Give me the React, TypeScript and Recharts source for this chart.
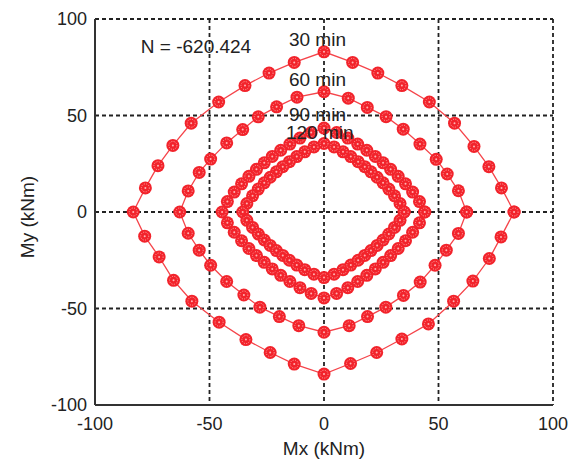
import {
  ScatterChart,
  Scatter,
  XAxis,
  YAxis,
  CartesianGrid,
  ReferenceDot,
} from 'recharts';

// Interaction curves My vs Mx (kNm), traced counter-clockwise from +Mx
const curve30: [number, number][] = [
  [83, 0], [77.5, 12.5], [72, 23.5], [65.5, 34], [57, 46], [46, 57], [34, 65.5], [23.5, 72], [12.5, 77.5], [0, 83],
  [-13, 77.5], [-24, 72], [-34.5, 65.5], [-46, 57], [-58, 46], [-66, 34.5], [-72.5, 24], [-78, 12.5], [-83.3, 0],
  [-78.3, -12.5], [-72, -23.3], [-65.7, -35.4], [-57.7, -46.2], [-45.8, -57.1], [-34.1, -66.1], [-23.5, -72.8], [-13, -78.8], [0, -84],
  [11.6, -78.5], [23, -72.8], [34, -65.8], [45.6, -58], [56.6, -46.2], [65, -35.8], [72.2, -24.1], [77.3, -12.9], [83, 0],
];

const curve60: [number, number][] = [
  [62.3, 0], [58.7, 11], [53.8, 19.7], [49, 27.3], [41.9, 35.2], [34.6, 42.9], [27.1, 49.4], [18.9, 54.2], [10.6, 59], [0, 62.3],
  [-11.8, 59.5], [-20.7, 54.5], [-28.7, 49.3], [-35.5, 42.7], [-42.5, 35.8], [-49.5, 27.4], [-54.5, 20.5], [-59.3, 10.9], [-63, 0],
  [-59.3, -11], [-54.5, -19.8], [-49.5, -27.6], [-42.5, -36], [-35, -43], [-28, -49.3], [-19.5, -54.2], [-11, -58.9], [0, -62.3],
  [11, -58.9], [19, -54.2], [27, -49.3], [34.7, -43.2], [42, -36.3], [48.5, -27.6], [53.4, -19.8], [58.7, -11.1], [62.3, 0],
];

const curve90: [number, number][] = [
  [44, 0], [41.7, 5.4], [38.7, 10.3], [35.6, 14.6], [32.4, 18.5], [29.1, 22.1], [25.8, 25.5], [22.4, 28.8], [18.7, 32], [14.7, 35.2], [10.4, 38.3], [5.5, 41.2], [0, 43.5],
  [-5.6, 41.2], [-10.5, 38.3], [-14.9, 35.2], [-18.9, 32], [-22.6, 28.8], [-26.1, 25.5], [-29.5, 22.1], [-32.8, 18.5], [-36, 14.6], [-39.2, 10.3], [-42.2, 5.4], [-44.5, 0],
  [-42.2, -5.6], [-39.2, -10.5], [-36, -14.9], [-32.8, -18.9], [-29.5, -22.6], [-26.1, -26.1], [-22.6, -29.5], [-18.9, -32.8], [-14.9, -36], [-10.5, -39.2], [-5.6, -42.2], [0, -44.5],
  [5.5, -42.2], [10.4, -39.2], [14.7, -36], [18.7, -32.8], [22.4, -29.5], [25.8, -26.1], [29.1, -22.6], [32.4, -18.9], [35.6, -14.9], [38.7, -10.5], [41.7, -5.6], [44, 0],
];

const curve120: [number, number][] = [
  [35, 0], [33.2, 4.4], [30.8, 8.4], [28.3, 11.9], [25.8, 15.1], [23.2, 18], [20.5, 20.8], [17.8, 23.5], [14.9, 26.1], [11.7, 28.7], [8.3, 31.2], [4.4, 33.7], [0, 35.5],
  [-4.4, 33.7], [-8.4, 31.2], [-11.9, 28.7], [-15.1, 26.1], [-18, 23.5], [-20.8, 20.8], [-23.5, 18], [-26.1, 15.1], [-28.7, 11.9], [-31.2, 8.4], [-33.7, 4.4], [-35.5, 0],
  [-33.7, -4.3], [-31.2, -8], [-28.7, -11.4], [-26.1, -14.5], [-23.5, -17.3], [-20.8, -20], [-18, -22.5], [-15.1, -25], [-11.9, -27.5], [-8.4, -29.9], [-4.4, -32.2], [0, -34],
  [4.4, -32.2], [8.3, -29.9], [11.7, -27.5], [14.9, -25], [17.8, -22.5], [20.5, -20], [23.2, -17.3], [25.8, -14.5], [28.3, -11.4], [30.8, -8], [33.2, -4.3], [35, 0],
];

const curves = [curve30, curve60, curve90, curve120];

const axisTicks = [-100, -50, 0, 50, 100];

// text annotations, anchored at their left edge (data coords)
const notes = [
  { text: 'N = -620.424', x: -80, y: 86 },
  { text: '30 min', x: -15.3, y: 89.6 },
  { text: '60 min', x: -15.3, y: 68.8 },
  { text: '90 min', x: -15.3, y: 50.5 },
  { text: '120 min', x: -16.6, y: 41.1 },
];

const FONT = '"Liberation Sans", Arial, sans-serif';
const RED = '#f2232b';

const Marker = (props: any) => {
  const { cx, cy } = props;
  if (cx == null || cy == null) return null;
  return (
    <g>
      <circle cx={cx} cy={cy} r={6.5} fill={RED} />
      <circle cx={cx} cy={cy} r={4} fill="none" stroke="#ffa8a8" strokeWidth={1} strokeDasharray="1 1.4" />
      <circle cx={cx} cy={cy} r={1} fill="#ffb4b4" />
    </g>
  );
};

const YTitle = (props: any) => {
  const vb = props.viewBox;
  const x = vb.x + 27;
  const y = vb.y + vb.height / 2 + 5;
  return (
    <text
      x={x}
      y={y}
      transform={`rotate(-90, ${x}, ${y})`}
      textAnchor="middle"
      dominantBaseline="central"
      fontSize={19}
      fill="#222"
      fontFamily={FONT}
    >
      My (kNm)
    </text>
  );
};

export default function App() {
  return (
    <div style={{ position: 'absolute', left: 0, top: 0, width: 581, height: 461, background: '#fff' }}>
      <ScatterChart width={581} height={461} margin={{ top: 19, right: 28, bottom: 0, left: 0 }}>
        <CartesianGrid stroke="#222" strokeWidth={1.8} strokeDasharray="4 3" />
        <XAxis
          type="number"
          dataKey="x"
          domain={[-100, 100]}
          ticks={axisTicks}
          interval={0}
          height={56}
          tickLine={false}
          tickMargin={6}
          axisLine={{ stroke: '#333', strokeWidth: 2 }}
          tick={{ fontSize: 18, fill: '#222', fontFamily: FONT }}
          label={{ value: 'Mx (kNm)', position: 'insideBottom', offset: 6, fontSize: 19, fill: '#222', fontFamily: FONT }}
        />
        <YAxis
          type="number"
          dataKey="y"
          domain={[-100, 100]}
          ticks={axisTicks}
          interval={0}
          width={95}
          tickLine={false}
          axisLine={{ stroke: '#333', strokeWidth: 2 }}
          tick={{ fontSize: 18, fill: '#222', fontFamily: FONT }}
          label={(p: any) => <YTitle {...p} />}
        />
        {curves.map((c, i) => (
          <Scatter
            key={i}
            data={c.map(([x, y]) => ({ x, y }))}
            line={{ stroke: '#f5444a', strokeWidth: 1.3 }}
            lineType="joint"
            shape={<Marker />}
            isAnimationActive={false}
          />
        ))}
        {notes.map((n) => (
          <ReferenceDot
            key={n.text}
            x={n.x}
            y={n.y}
            r={0}
            fill="none"
            stroke="none"
            label={{ value: n.text, position: 'right', offset: 0, fontSize: 19, fill: '#222', fontFamily: FONT }}
          />
        ))}
      </ScatterChart>
    </div>
  );
}
